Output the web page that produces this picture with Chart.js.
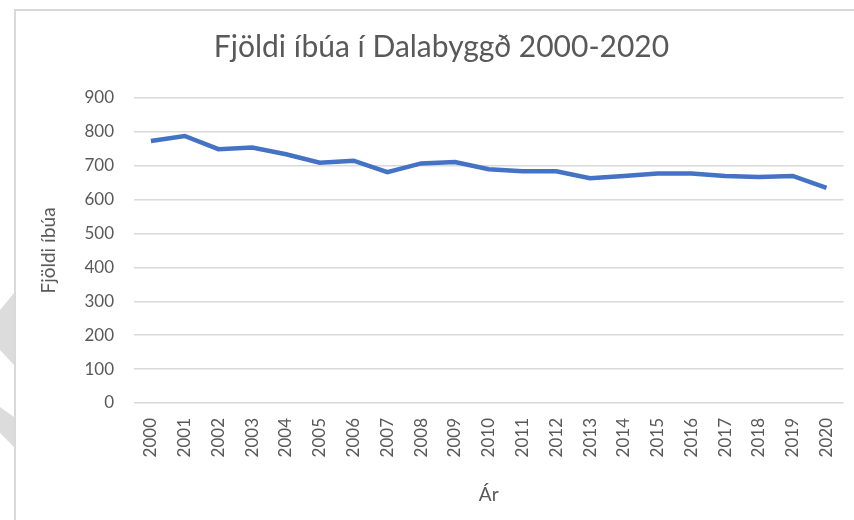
<!DOCTYPE html>
<html>
<head>
<meta charset="utf-8">
<script src="https://cdn.jsdelivr.net/npm/chart.js@4"></script>
<style>
  body { margin: 0; background: #fff; }
  #wrap { position: relative; width: 854px; height: 520px; overflow: hidden; }
  #frame { position: absolute; left: 14px; top: 9px; width: 900px; height: 600px;
           border-left: 2px solid #d9d9d9; border-top: 2px solid #d9d9d9; box-sizing: border-box; }
  .wedge { position: absolute; left: 0; width: 14px; background: #dcdcdc; }
  #w1 { top: 293px; height: 72px; clip-path: polygon(0 23.6%, 100% 0, 100% 100%, 0 79%); }
  #w2 { top: 407px; height: 40px; clip-path: polygon(0 0, 100% 25%, 100% 100%, 0 65%); }
  canvas { position: absolute; left: 0; top: 0; }
</style>
</head>
<body>
<div id="wrap">
  <div id="frame"></div>
  <div class="wedge" id="w1"></div>
  <div class="wedge" id="w2"></div>
  <canvas id="popChart" width="854" height="520"></canvas>
</div>
<script>
var years = ['2000','2001','2002','2003','2004','2005','2006','2007','2008','2009','2010',
             '2011','2012','2013','2014','2015','2016','2017','2018','2019','2020'];
var residents = [773, 788, 749, 754, 734, 709, 715, 681, 707, 711, 690,
                 684, 684, 663, 670, 677, 677, 670, 667, 670, 635];
var yTicks = [0, 100, 200, 300, 400, 500, 600, 700, 800, 900];

var grey = '#595959';
var fontFam = 'Lato, "Open Sans", sans-serif';

document.addEventListener("DOMContentLoaded", function() {
    var ctx = document.getElementById('popChart').getContext('2d');
    new Chart(ctx, {
        type: 'line',
        data: {
            labels: years,
            datasets: [{
                label: 'Fjöldi íbúa',
                data: residents,
                borderColor: '#4472C4',
                borderWidth: 4.5,
                pointRadius: 0,
                tension: 0,
                fill: false
            }]
        },
        options: {
            responsive: false,
            animation: false,
            layout: { padding: { left: 33, right: 4, top: 0, bottom: 10 } },
            plugins: {
                legend: { display: false },
                tooltip: { enabled: false },
                title: {
                    display: true,
                    text: 'Fjöldi íbúa í Dalabyggð 2000-2020',
                    color: grey,
                    font: { family: fontFam, size: 30, weight: 'normal' },
                    padding: { top: 29, bottom: 33 }
                }
            },
            scales: {
                x: {
                    offset: true,
                    grid: { display: false },
                    border: { display: false },
                    ticks: {
                        color: grey,
                        font: { family: fontFam, size: 17 },
                        minRotation: 90, maxRotation: 90,
                        padding: 7
                    },
                    title: {
                        display: true, text: 'Ár', color: grey,
                        font: { family: fontFam, size: 19 }
                    },
                    afterFit: function(scale) { scale.height = 107; }
                },
                y: {
                    min: 0, max: 900,
                    afterBuildTicks: function(scale) {
                        scale.ticks = yTicks.map(function(v) { return { value: v }; });
                    },
                    grid: { color: '#d9d9d9', lineWidth: 1.5, drawTicks: false },
                    border: { display: false },
                    ticks: {
                        color: grey,
                        font: { family: fontFam, size: 17 },
                        padding: 20
                    },
                    title: {
                        display: true, text: 'Fjöldi íbúa', color: grey,
                        font: { family: fontFam, size: 19 }
                    },
                    afterFit: function(scale) { scale.width = 101; }
                }
            }
        }
    });
});
</script>
</body>
</html>
